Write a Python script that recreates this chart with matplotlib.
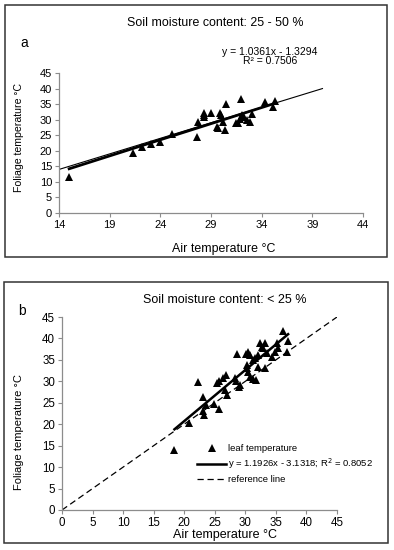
import matplotlib
matplotlib.use("Agg")
import matplotlib.pyplot as plt
from matplotlib.patches import Rectangle
import numpy as np

plt.rcParams["font.family"] = ["Liberation Sans", "DejaVu Sans"]

# --- panel a: soil moisture 25 - 50 % ---------------------------------
air_a = [15.0, 21.3, 22.2, 23.1, 24.0, 25.2, 27.6, 27.7, 28.3, 28.3, 28.3,
         29.0, 29.6, 29.7, 29.9, 30.0, 30.2, 30.4, 30.5, 31.5, 31.7, 31.9,
         32.0, 32.1, 32.3, 32.6, 32.8, 33.0, 34.3, 35.1, 35.3]
leaf_a = [11.7, 19.4, 21.2, 22.3, 22.7, 25.4, 24.5, 29.2, 32.3, 31.5, 31.0,
          32.3, 27.8, 27.2, 32.0, 31.6, 29.2, 26.6, 35.0, 28.9, 29.0, 30.2,
          36.6, 31.6, 31.0, 30.0, 29.2, 31.8, 35.8, 34.0, 36.0]
fit_a = (1.0361, -1.3294)
fit_a_range = (15.0, 35.3)
ref_a_range = (14.0, 40.0)
xticks_a = [14, 19, 24, 29, 34, 39, 44]
yticks_a = [0, 5, 10, 15, 20, 25, 30, 35, 40, 45]

# --- panel b: soil moisture < 25 % -------------------------------------
air_b = [18.4, 20.8, 22.3, 23.1, 23.6, 23.1, 23.2, 24.8, 25.7, 25.3, 25.7,
         26.4, 26.8, 26.7, 27.0, 28.3, 28.5, 29.1, 29.0, 28.6, 30.1, 30.5,
         30.8, 30.2, 30.3, 30.5, 30.8, 31.3, 31.8, 31.3, 31.6, 32.1, 32.4,
         32.7, 33.2, 32.9, 32.1, 33.2, 33.5, 34.3, 34.9, 35.4, 35.2, 36.1,
         36.9, 36.8]
leaf_b = [14.1, 20.4, 29.9, 26.3, 24.5, 23.1, 22.1, 24.6, 23.5, 29.5, 30.1,
          30.7, 31.5, 28.0, 26.8, 30.7, 30.1, 29.1, 28.7, 36.4, 36.3, 36.9,
          36.1, 33.8, 33.0, 32.2, 31.1, 30.5, 30.3, 35.0, 35.5, 36.1, 38.9,
          38.1, 38.9, 37.7, 33.4, 33.2, 36.5, 35.7, 36.9, 37.7, 38.9, 41.7,
          39.4, 36.9]
fit_b = (1.1926, -3.1318)
fit_b_range = (18.4, 37.0)
ref_b_range = (0.0, 45.0)
ticks_b = [0, 5, 10, 15, 20, 25, 30, 35, 40, 45]

W, H = 394, 550
fig = plt.figure(figsize=(W / 100, H / 100), dpi=100)


def fx(px):
    return px / W


def fy(py):
    return 1 - py / H


# outer frames around each panel
for x0, y0, x1, y1 in [(5, 5, 387, 257), (4, 282, 388, 543)]:
    fig.patches.append(Rectangle((fx(x0), fy(y1)), fx(x1 - x0), (y1 - y0) / H,
                                 transform=fig.transFigure, fill=False,
                                 edgecolor="#333333", linewidth=1.1))

GRAY = "#8c8c8c"


def style(ax, size):
    for s in ("top", "right"):
        ax.spines[s].set_visible(False)
    for s in ("left", "bottom"):
        ax.spines[s].set_color(GRAY)
        ax.spines[s].set_linewidth(0.9)
    ax.tick_params(direction="out", length=3, width=0.8, color=GRAY,
                   labelsize=size, pad=2)


# ---- panel a -----------------------------------------------------------
ax = fig.add_axes([fx(59), fy(213), fx(363 - 59), (213 - 73) / H])
style(ax, 8)
ax.set_xlim(14, 44)
ax.set_ylim(0, 45)
ax.set_xticks(xticks_a)
ax.set_yticks(yticks_a)
ax.plot(ref_a_range, ref_a_range, color="black", lw=0.8)
xs = np.array(fit_a_range)
ax.plot(xs, fit_a[0] * xs + fit_a[1], color="black", lw=2.0)
ax.plot(air_a, leaf_a, "^", color="black", ms=5.5, mew=0)
ax.set_xlabel("Air temperature °C", fontsize=8.9)
ax.set_ylabel("Foliage temperature °C", fontsize=7.6)
ax.xaxis.set_label_coords(0.543, -0.214)
ax.yaxis.set_label_coords(-0.115, 0.539)

fig.text(fx(215), fy(23), "Soil moisture content: 25 - 50 %", fontsize=8.9,
         ha="center", va="center")
fig.text(fx(24), fy(43), "a", fontsize=10, ha="center", va="center")
fig.text(fx(270), fy(52), "y = 1.0361x - 1.3294", fontsize=7.5,
         ha="center", va="center")
fig.text(fx(270), fy(61), "R² = 0.7506", fontsize=7.5,
         ha="center", va="center")

# ---- panel b -----------------------------------------------------------
bx = fig.add_axes([fx(62), fy(510), fx(337 - 62), (510 - 317) / H])
style(bx, 8.3)
bx.set_xlim(0, 45)
bx.set_ylim(0, 45)
bx.set_xticks(ticks_b)
bx.set_yticks(ticks_b)
bx.plot(air_b, leaf_b, "^", color="black", ms=5.5, mew=0,
        label="leaf temperature")
xs = np.array(fit_b_range)
bx.plot(xs, fit_b[0] * xs + fit_b[1], color="black", lw=1.8,
        label="y = 1.1926x - 3.1318; R$^2$ = 0.8052")
bx.plot(ref_b_range, ref_b_range, color="black", lw=0.9, dashes=(5, 3),
        label="reference line")
bx.set_xlabel("Air temperature °C", fontsize=9)
bx.set_ylabel("Foliage temperature °C", fontsize=8)
bx.xaxis.set_label_coords(0.593, -0.098)
bx.yaxis.set_label_coords(-0.138, 0.404)
bx.legend(loc="upper left", bbox_to_anchor=(fx(197), fy(444)),
          bbox_transform=fig.transFigure, frameon=False, fontsize=6.8,
          handlelength=3.1, handletextpad=0.2, labelspacing=0.4,
          borderpad=0, borderaxespad=0)

fig.text(fx(225), fy(300), "Soil moisture content: < 25 %", fontsize=9,
         ha="center", va="center")
fig.text(fx(22), fy(311), "b", fontsize=10, ha="center", va="center")

fig.savefig("out.png", dpi=100)
